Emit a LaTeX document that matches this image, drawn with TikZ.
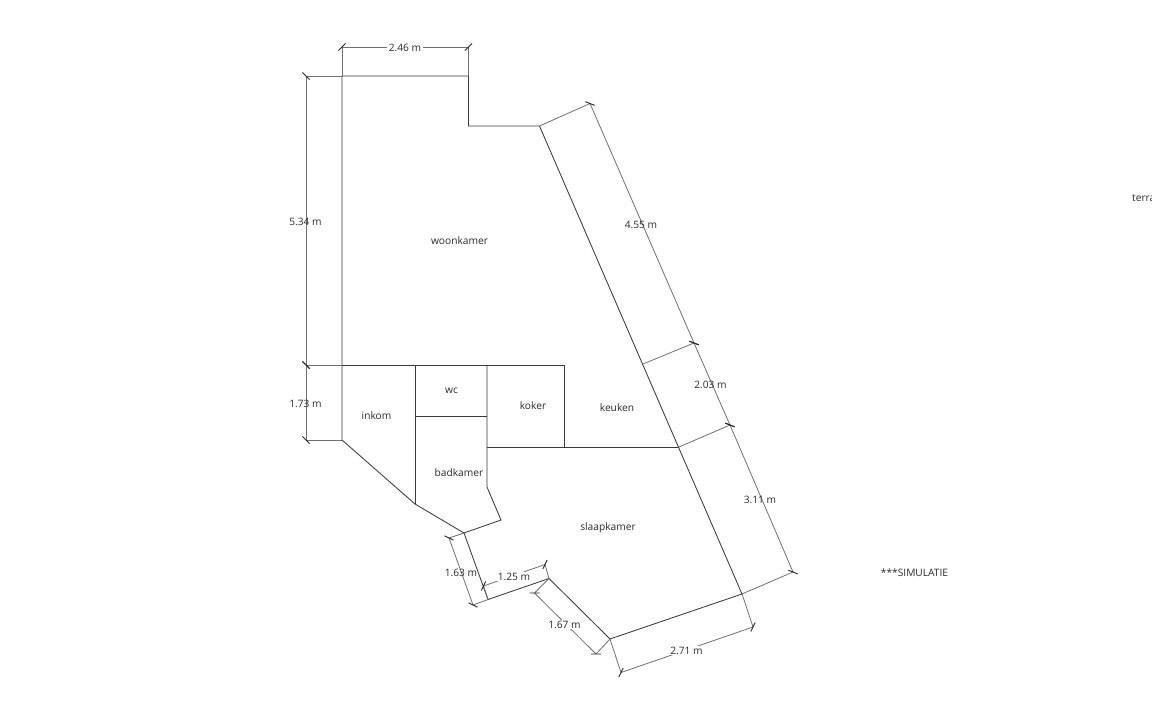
\documentclass[tikz,border=0pt]{standalone}
\usepackage{fontspec}
\setmainfont{Open Sans}
\usetikzlibrary{calc}
\definecolor{wallc}{HTML}{3A3A3A}
\definecolor{dimc}{HTML}{707070}
\definecolor{txtc}{HTML}{2A2A2A}
\tikzset{
  wall/.style={draw=wallc,line width=0.85pt,line join=miter},
  dimline/.style={draw=dimc,line width=0.8pt},
  ticks/.style={draw=black!85,line width=0.9pt},
  lab/.style={font=\fontsize{10.2}{12}\selectfont,text=txtc,inner sep=0pt},
  gaplab/.style={lab,fill=white,inner xsep=1.5pt,inner ysep=1pt}
}
\newcommand{\dimseg}[2]{%
  \draw[dimline] (#1) -- (#2);
  \draw[ticks] ($(#1)!5pt!45:(#2)$) -- ($(#1)!-5pt!45:(#2)$);
  \draw[ticks] ($(#2)!5pt!45:(#1)$) -- ($(#2)!-5pt!45:(#1)$);
}
\begin{document}
\begin{tikzpicture}[x=1pt,y=-1pt]
\useasboundingbox (0,0) rectangle (1152,727);
% outline
\coordinate (A) at (342,76);
\coordinate (B) at (468.5,76);
\coordinate (C) at (468.5,126);
\coordinate (D) at (539.5,126);
\coordinate (E) at (742,594);
\coordinate (F) at (610,639);
\coordinate (G) at (549,578.5);
\coordinate (H) at (488,599.5);
\coordinate (I) at (464,533);
\coordinate (J) at (415,504);
\coordinate (K) at (342,440);
\coordinate (L) at (342,365);
\coordinate (M) at (415,365);
\coordinate (N) at (487,365);
\coordinate (O) at (564.5,365);
\coordinate (P) at (564.5,447);
\coordinate (Q) at (487,447);
\coordinate (R) at (679,447);
\coordinate (S) at (643,364);
\coordinate (T) at (415,416.5);
\coordinate (U) at (487,416.5);
\coordinate (V) at (487,487);
\coordinate (W) at (501,520);
\draw[wall] (A) -- (B) -- (C) -- (D) -- (E) -- (F) -- (G) -- (H) -- (I) -- (J) -- (K) -- cycle;
\draw[wall] (L) -- (O) -- (P);
\draw[wall] (M) -- (J);
\draw[wall] (N) -- (V) -- (W) -- (I);
\draw[wall] (T) -- (U);
\draw[wall] (Q) -- (R);
% dimension end points
\coordinate (d1a) at (342,47);
\coordinate (d1b) at (468.5,47);
\coordinate (d2a) at (306,76);
\coordinate (d2b) at (306,365);
\coordinate (d3b) at (306,440);
\coordinate (d4a) at (590,103.5);
\coordinate (d4b) at (694,343);
\coordinate (d5b) at (730,425);
\coordinate (d6b) at (793,572);
\coordinate (d7a) at (621,672.5);
\coordinate (d7b) at (753,627);
\coordinate (d8a) at (534.5,593);
\coordinate (d8b) at (596,654);
\coordinate (d9a) at (483.5,586);
\coordinate (d9b) at (545,564.5);
\coordinate (d10a) at (449,538);
\coordinate (d10b) at (473,605);
% extension lines
\draw[dimline] (A) -- (d1a) (B) -- (d1b) (A) -- (d2a) (L) -- (d2b) (K) -- (d3b);
\draw[dimline] (D) -- (d4a) (S) -- (d4b) (R) -- (d5b) (E) -- (d6b);
\draw[dimline] (F) -- (d7a) (E) -- (d7b) (G) -- (d8a) (F) -- (d8b);
\draw[dimline] (H) -- (d9a) (G) -- (d9b) (I) -- (d10a) (H) -- (d10b);
% dimension lines
\dimseg{d1a}{d1b}
\dimseg{d2a}{d2b}
\dimseg{d2b}{d3b}
\dimseg{d4a}{d4b}
\dimseg{d4b}{d5b}
\dimseg{d5b}{d6b}
\dimseg{d7a}{d7b}
\dimseg{d8a}{d8b}
\dimseg{d9a}{d9b}
\dimseg{d10a}{d10b}
% dimension labels
\node[gaplab] (l1) at (405,48) {2.46 m};
\node[lab] (l2) at (305.5,221.5) {5.34 m};
\node[lab] (l3) at (305.5,403.5) {1.73 m};
\node[lab] (l4) at (641,224.5) {4.55 m};
\node[lab] (l5) at (710.5,385) {2.03 m};
\node[lab] (l6) at (760,499.5) {3.11 m};
\node[gaplab] (l7) at (686.5,650.5) {2.71 m};
\node[gaplab] (l8) at (564.5,624.5) {1.67 m};
\node[gaplab] (l9) at (514,576.5) {1.25 m};
\node[lab] (l10) at (461,573) {1.63 m};
% room labels
\node[lab] (woonkamer) at (459.5,240.5) {woonkamer};
\node[lab] (inkom) at (376.5,415.5) {inkom};
\node[lab] (wc) at (451.5,390.5) {wc};
\node[lab] (koker) at (533,405.5) {koker};
\node[lab] (keuken) at (617,407.5) {keuken};
\node[lab] (badkamer) at (459,472.5) {badkamer};
\node[lab] (slaapkamer) at (608,527.5) {slaapkamer};
\node[lab,anchor=base west] (terras) at (1132,202) {terra};
\node[lab] (simulatie) at (914.5,572.5) {***SIMULATIE};
\end{tikzpicture}
\end{document}
